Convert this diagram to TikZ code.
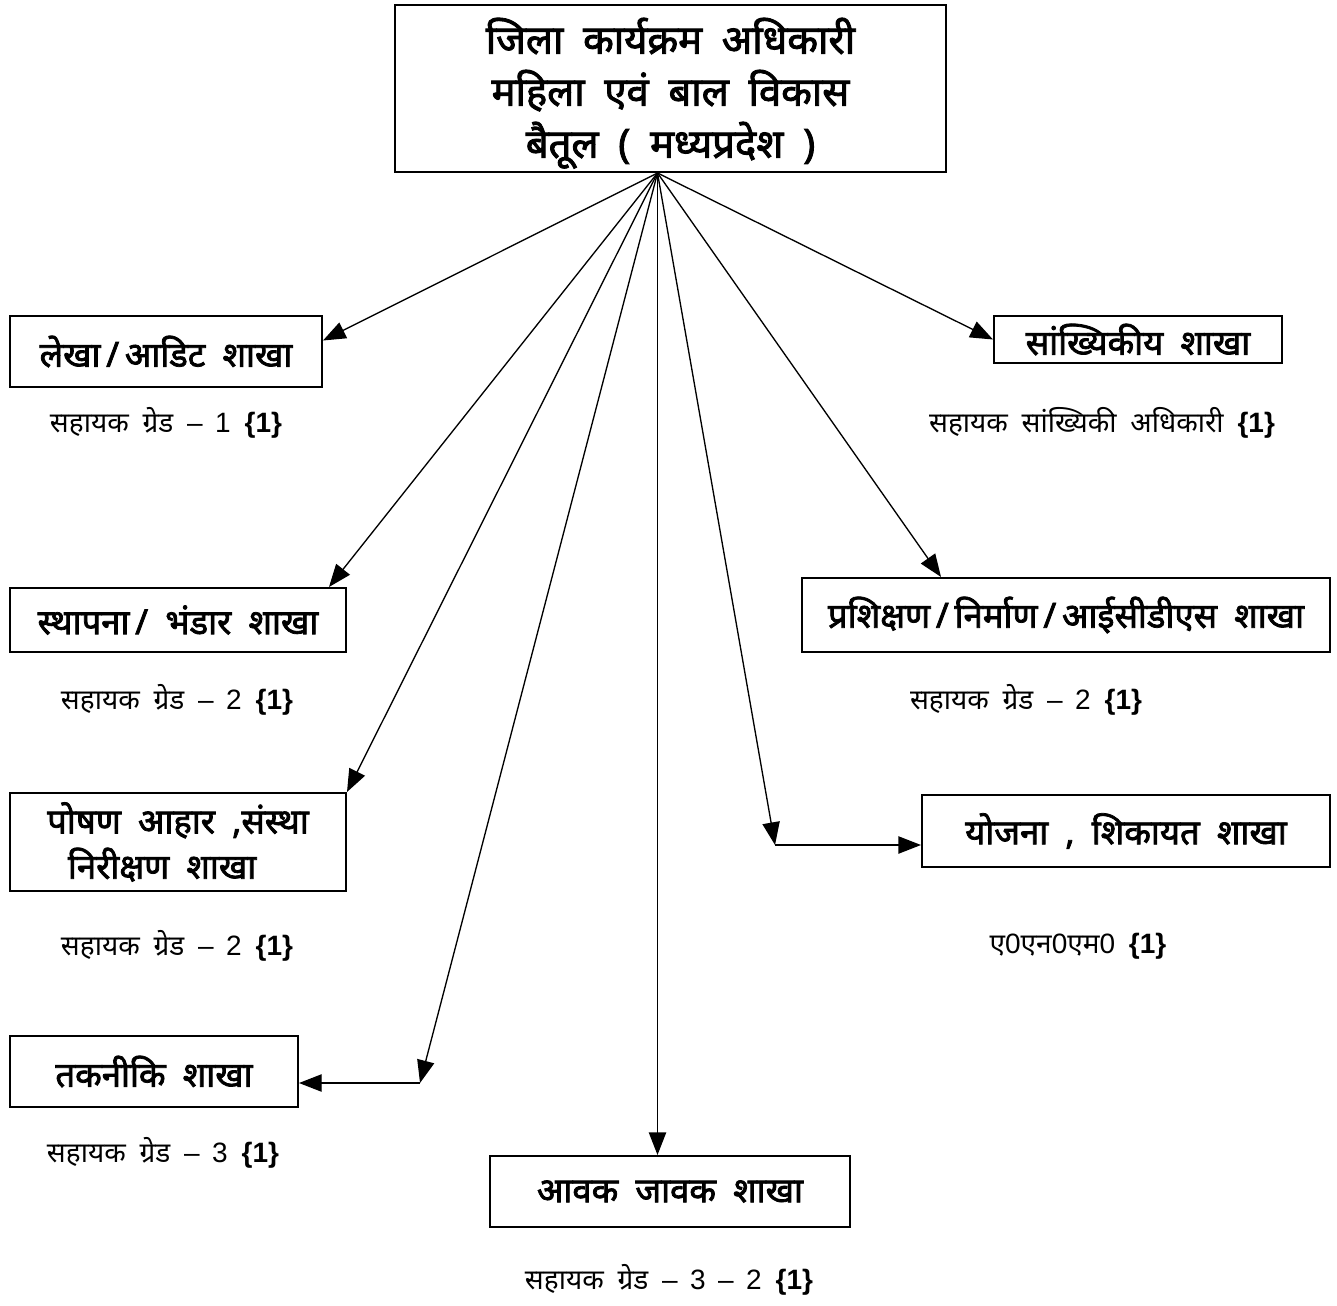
\documentclass[tikz,border=0pt]{standalone}
\usepackage{fontspec}
\setmainfont{Noto Sans}[Script=Devanagari, WordSpace=1.9, AutoFakeBold=2.2]
\newfontfamily\lat{Liberation Sans}[WordSpace=1.6]
\usetikzlibrary{arrows.meta,calc}
\tikzset{every picture/.style={line width=0.75pt}}
\tikzset{
  shakha/.style={draw, line width=1.5pt, inner sep=0pt, align=center, font=\fontsize{26}{34}\selectfont\bfseries},
  pad/.style={inner sep=0pt, font=\fontsize{21}{24}\selectfont},
  tir/.style={line width=1pt, -{Triangle[length=17pt,width=13pt]}}
}
\newcommand{\ek}{{\lat\bfseries\{1\}}}

\begin{document}
\begin{tikzpicture}[x=0.75pt,y=0.75pt,yscale=-1,xscale=1]
\useasboundingbox (0,0) rectangle (1337,1305);

% Top box
\node [shakha, minimum width=413.25pt, minimum height=125.25pt, font=\fontsize{30}{39}\selectfont\bfseries] (dpo) at (670.5,88.5) {\rule{0pt}{34pt}जिला कार्यक्रम अधिकारी\\ महिला एवं बाल विकास\\ बैतूल ( मध्यप्रदेश )};

% Left branches
\node [shakha, minimum width=234pt, minimum height=53.25pt] (lekha) at (166,351.5) {लेखा\,/\,आडिट शाखा};
\node [shakha, minimum width=252pt, minimum height=48pt] (sthapana) at (178,620) {स्थापना\,/ भंडार शाखा};
\node [shakha, minimum width=252pt, minimum height=73.5pt, align=left] (poshan) at (178,842) {पोषण आहार ,संस्था\\ \hspace*{0.6em}निरीक्षण शाखा};
\node [shakha, minimum width=216pt, minimum height=53.25pt] (taknik) at (154,1071.5) {तकनीकि शाखा};

% Right branches
\node [shakha, minimum width=216pt, minimum height=35.25pt] (sankhyiki) at (1138,339.5) {सांख्यिकीय शाखा};
\node [shakha, minimum width=396pt, minimum height=55.5pt] (prashikshan) at (1066,615) {प्रशिक्षण\,/\,निर्माण\,/\,आईसीडीएस शाखा};
\node [shakha, minimum width=306pt, minimum height=54pt] (yojana) at (1126,831) {योजना , शिकायत शाखा};

% Bottom branch
\node [shakha, minimum width=270pt, minimum height=53.25pt] (aavak) at (670,1191.5) {आवक जावक शाखा};

% Posts
\node [pad] (lekhaPad) at (166,423) {सहायक ग्रेड {\lat – 1} \ek};
\node [pad] (sthapanaPad) at (177,700) {सहायक ग्रेड {\lat – 2} \ek};
\node [pad] (poshanPad) at (177,946) {सहायक ग्रेड {\lat – 2} \ek};
\node [pad] (taknikPad) at (163,1153) {सहायक ग्रेड {\lat – 3} \ek};
\node [pad] (sankhyikiPad) at (1102,423) {सहायक सांख्यिकी अधिकारी \ek};
\node [pad] (prashikshanPad) at (1026,700) {सहायक ग्रेड {\lat – 2} \ek};
\node [pad] (yojanaPad) at (1078,946) {ए{\lat 0}एन{\lat 0}एम{\lat 0} \ek};
\node [pad] (aavakPad) at (669,1280) {सहायक ग्रेड {\lat – 3 – 2} \ek};

% Connectors
\coordinate (hub) at ($(dpo.south)+(-13,0)$);
\coordinate (ybend) at (775,845);
\coordinate (tbend) at (420,1083);
\draw [tir] (hub) -- ($(lekha.east)+(0,-11)$);
\draw [tir] (hub) -- (sankhyiki.west);
\draw [tir] (hub) -- ($(sthapana.north east)+(-18,0)$);
\draw [tir] (hub) -- ($(prashikshan.north west)+(140,0)$);
\draw [tir] (hub) -- (poshan.north east);
\draw [tir] (hub) -- (ybend);
\draw [tir] (ybend) -- (ybend -| yojana.west);
\draw [tir] (hub) -- (tbend);
\draw [tir] (tbend) -- (tbend -| taknik.east);
\draw [tir] (hub) -- (hub |- aavak.north);

\end{tikzpicture}
\end{document}
